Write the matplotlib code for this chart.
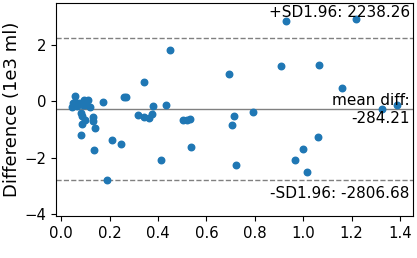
import matplotlib
matplotlib.use("Agg")
import matplotlib.pyplot as plt
import numpy as np

# Means of the two measurements (x) and differences (y, in 1e3 ml)
means = [0.055, 0.043, 0.055, 0.065, 0.074, 0.094, 0.109, 0.100, 0.117, 0.082,
         0.086, 0.100, 0.084, 0.080, 0.133, 0.133, 0.141, 0.137, 0.171, 0.209,
         0.249, 0.188, 0.261, 0.268, 0.316, 0.344, 0.361, 0.375, 0.378, 0.344,
         0.412, 0.432, 0.449, 0.502, 0.519, 0.532, 0.535, 0.693, 0.713, 0.705,
         0.722, 0.793, 0.908, 0.929, 1.065, 1.219, 1.161, 1.326, 1.388, 1.061,
         0.999, 0.966, 1.016, 0.090, 0.047]
diffs = [0.203, -0.178, -0.018, -0.160, -0.036, 0.060, 0.036, -0.107, -0.178, -0.402,
         -0.516, -0.641, -0.794, -1.185, -0.552, -0.701, -0.943, -1.719, -0.007, -1.359,
         -1.505, -2.786, 0.167, 0.167, -0.473, -0.534, -0.577, -0.438, -0.149, 0.676,
         -2.075, -0.114, 1.843, -0.658, -0.641, -0.612, -1.609, 0.986, -0.509, -0.829,
         -2.253, -0.356, 1.274, 2.847, 1.306, 2.918, 0.488, -0.249, -0.117, -1.256,
         -1.680, -2.075, -2.502, -0.142, -0.036]

mean_diff = -284.21     # ml
upper_lim = 2238.26     # ml
lower_lim = -2806.68    # ml
sd_limit = 1.96

fig = plt.figure(figsize=(4.17, 2.58), dpi=100)
ax = fig.add_axes([0.1343, 0.1628, 0.8568, 0.8256])

ax.scatter(means, diffs, s=22, color='#1f77b4', zorder=3)
ax.axhline(mean_diff / 1000, color='gray', linewidth=1)
ax.axhline(upper_lim / 1000, color='gray', linewidth=1, linestyle='--')
ax.axhline(lower_lim / 1000, color='gray', linewidth=1, linestyle='--')

ax.annotate('mean diff:\n{}'.format(mean_diff), xy=(0.99, 0.5), ha='right', va='center',
            fontsize=11, xycoords='axes fraction')
ax.annotate('-SD{}: {}'.format(sd_limit, lower_lim), xy=(0.99, 0.07), ha='right', va='bottom',
            fontsize=11, xycoords='axes fraction')
ax.annotate('+SD{}: {}'.format(sd_limit, upper_lim), xy=(0.99, 0.92), ha='right', va='bottom',
            fontsize=11, xycoords='axes fraction')

half = 1.5 * (upper_lim - mean_diff) / 1000
ax.set_ylim(mean_diff / 1000 - half, mean_diff / 1000 + half)
ax.set_xlim(-0.0215, 1.455)
ax.set_ylabel('Difference (1e3 ml)', fontsize=13)
ax.yaxis.set_label_coords(-0.097, 0.5)
ax.tick_params(labelsize=10.7)

fig.savefig('out.png', dpi=100)
